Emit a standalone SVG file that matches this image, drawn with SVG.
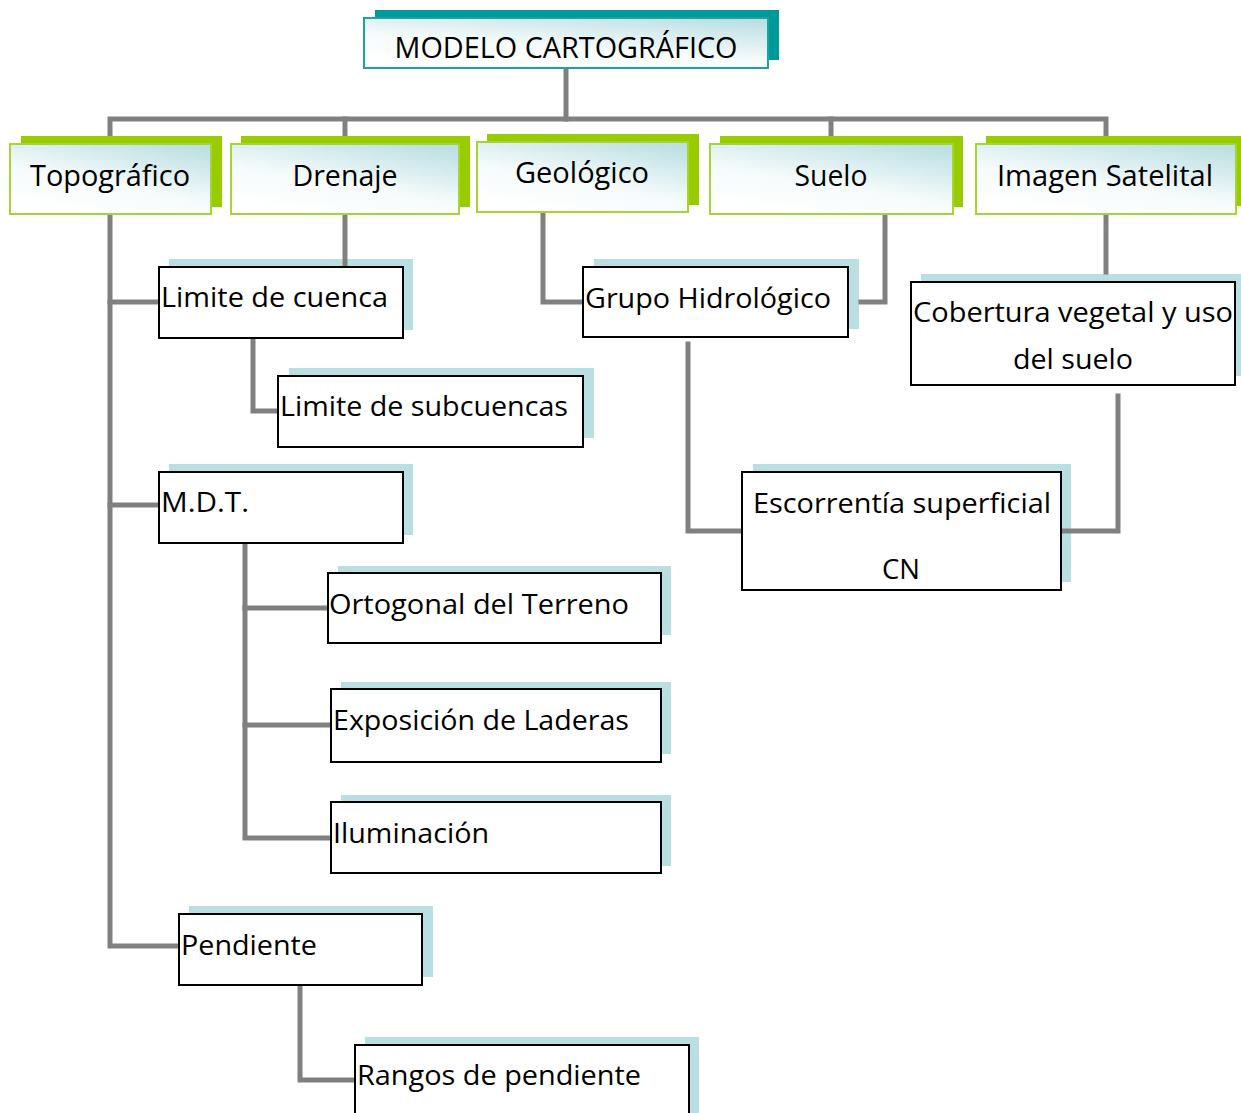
<svg xmlns="http://www.w3.org/2000/svg" width="1241" height="1113" viewBox="0 0 1241 1113">
<style>
text{font-family:"Open Sans","Noto Sans","Liberation Sans",sans-serif;fill:#000}
.t1{font-size:30px}
.t2{font-size:28px}
.mid{text-anchor:middle}
.conn{fill:none;stroke:#808080;stroke-width:5;stroke-linejoin:miter;stroke-linecap:square}
.tshadow{fill:#009999}
.tbox{fill:url(#grad);stroke:#1aa3a3;stroke-width:2}
.gshadow{fill:#99cc00}
.gbox{fill:url(#grad);stroke:#a6d433;stroke-width:2}
.bshadow{fill:#b9dfe2}
.bbox{fill:#fff;stroke:#000;stroke-width:2}
</style>
<defs>
<linearGradient id="grad" x1="0.3" y1="1" x2="0.85" y2="0">
<stop offset="0" stop-color="#ffffff"/>
<stop offset="0.4" stop-color="#f6fbfb"/>
<stop offset="1" stop-color="#bcdfe3"/>
</linearGradient>
</defs>
<rect width="1241" height="1113" fill="#fff"/>

<!-- shadows of detail boxes (behind connectors) -->
<g id="shadows">
<rect class="bshadow" x="169" y="259" width="244" height="71"/>
<rect class="bshadow" x="289" y="368" width="305" height="70"/>
<rect class="bshadow" x="169" y="464" width="244" height="71"/>
<rect class="bshadow" x="338" y="566" width="333" height="69"/>
<rect class="bshadow" x="341" y="682" width="330" height="72"/>
<rect class="bshadow" x="341" y="795" width="330" height="71"/>
<rect class="bshadow" x="189" y="906" width="244" height="71"/>
<rect class="bshadow" x="365" y="1037" width="334" height="76"/>
<rect class="bshadow" x="594" y="259" width="265" height="70"/>
<rect class="bshadow" x="921" y="274" width="320" height="102"/>
<rect class="bshadow" x="753" y="464" width="318" height="118"/>
</g>

<g id="connectors">
<path class="conn" d="M566 68 V119"/>
<path class="conn" d="M110 143 V119 H1106 V143"/>
<path class="conn" d="M345 119 V143"/>
<path class="conn" d="M831 119 V143"/>
<path class="conn" d="M110 214 V946 H178"/>
<path class="conn" d="M110 302 H158"/>
<path class="conn" d="M110 505 H158"/>
<path class="conn" d="M345 214 V267"/>
<path class="conn" d="M253 338 V411 H277"/>
<path class="conn" d="M245 543 V838 H331"/>
<path class="conn" d="M245 608 H327"/>
<path class="conn" d="M245 725 H331"/>
<path class="conn" d="M300 985 V1080 H355"/>
<path class="conn" d="M543 212 V302 H582"/>
<path class="conn" d="M885 214 V302 H861"/>
<path class="conn" d="M1106 214 V272"/>
<path class="conn" d="M688 344 V531 H742"/>
<path class="conn" d="M1118 396 V531 H1061"/>
</g>

<g id="n-modelo">
<rect class="tshadow" x="375" y="10" width="404" height="50"/>
<rect class="tbox" x="364" y="18" width="404" height="50"/>
<text class="t1 mid" x="566" y="58" textLength="343" lengthAdjust="spacingAndGlyphs">MODELO CARTOGRÁFICO</text>
</g>

<g id="n-topografico">
<rect class="gshadow" x="21" y="136" width="201" height="71"/>
<rect class="gbox" x="10" y="144" width="201" height="70"/>
<text class="t1 mid" x="110" y="186" textLength="160" lengthAdjust="spacingAndGlyphs">Topográfico</text>
</g>
<g id="n-drenaje">
<rect class="gshadow" x="241" y="136" width="229" height="71"/>
<rect class="gbox" x="231" y="144" width="228" height="70"/>
<text class="t1 mid" x="345" y="186" textLength="105" lengthAdjust="spacingAndGlyphs">Drenaje</text>
</g>
<g id="n-geologico">
<rect class="gshadow" x="487" y="134" width="212" height="71"/>
<rect class="gbox" x="477" y="142" width="211" height="70"/>
<text class="t1 mid" x="582" y="183" textLength="134" lengthAdjust="spacingAndGlyphs">Geológico</text>
</g>
<g id="n-suelo">
<rect class="gshadow" x="720" y="136" width="243" height="71"/>
<rect class="gbox" x="710" y="144" width="243" height="70"/>
<text class="t1 mid" x="831" y="186" textLength="73" lengthAdjust="spacingAndGlyphs">Suelo</text>
</g>
<g id="n-imagen">
<rect class="gshadow" x="986" y="136" width="255" height="70"/>
<rect class="gbox" x="976" y="144" width="260" height="70"/>
<text class="t1 mid" x="1105" y="186" textLength="216" lengthAdjust="spacingAndGlyphs">Imagen Satelital</text>
</g>

<g id="n-limite-cuenca">
<rect class="bbox" x="159" y="267" width="244" height="71"/>
<text class="t2" x="161" y="307" textLength="227" lengthAdjust="spacingAndGlyphs">Limite de cuenca</text>
</g>
<g id="n-limite-subcuencas">
<rect class="bbox" x="278" y="376" width="305" height="71"/>
<text class="t2" x="280" y="416" textLength="288" lengthAdjust="spacingAndGlyphs">Limite de subcuencas</text>
</g>
<g id="n-mdt">
<rect class="bbox" x="159" y="472" width="244" height="71"/>
<text class="t2" x="161" y="512" textLength="88" lengthAdjust="spacingAndGlyphs">M.D.T.</text>
</g>
<g id="n-ortogonal">
<rect class="bbox" x="328" y="573" width="333" height="70"/>
<text class="t2" x="329" y="614" textLength="300" lengthAdjust="spacingAndGlyphs">Ortogonal del Terreno</text>
</g>
<g id="n-exposicion">
<rect class="bbox" x="331" y="689" width="330" height="73"/>
<text class="t2" x="333" y="730" textLength="296" lengthAdjust="spacingAndGlyphs">Exposición de Laderas</text>
</g>
<g id="n-iluminacion">
<rect class="bbox" x="331" y="802" width="330" height="71"/>
<text class="t2" x="333" y="843" textLength="156" lengthAdjust="spacingAndGlyphs">Iluminación</text>
</g>
<g id="n-pendiente">
<rect class="bbox" x="179" y="914" width="243" height="71"/>
<text class="t2" x="181" y="955" textLength="136" lengthAdjust="spacingAndGlyphs">Pendiente</text>
</g>
<g id="n-rangos">
<rect class="bbox" x="355" y="1045" width="334" height="80"/>
<text class="t2" x="357" y="1085" textLength="284" lengthAdjust="spacingAndGlyphs">Rangos de pendiente</text>
</g>
<g id="n-grupo">
<rect class="bbox" x="583" y="267" width="265" height="70"/>
<text class="t2" x="585" y="308" textLength="246" lengthAdjust="spacingAndGlyphs">Grupo Hidrológico</text>
</g>
<g id="n-cobertura">
<rect class="bbox" x="911" y="282" width="324" height="103"/>
<text class="t2 mid" x="1073" y="322" textLength="320" lengthAdjust="spacingAndGlyphs">Cobertura vegetal y uso</text>
<text class="t2 mid" x="1073" y="369" textLength="120" lengthAdjust="spacingAndGlyphs">del suelo</text>
</g>
<g id="n-escorrentia">
<rect class="bbox" x="742" y="472" width="319" height="118"/>
<text class="t2 mid" x="902" y="513" textLength="298" lengthAdjust="spacingAndGlyphs">Escorrentía superficial</text>
<text class="t2 mid" x="901" y="579" textLength="38" lengthAdjust="spacingAndGlyphs">CN</text>
</g>
</svg>
